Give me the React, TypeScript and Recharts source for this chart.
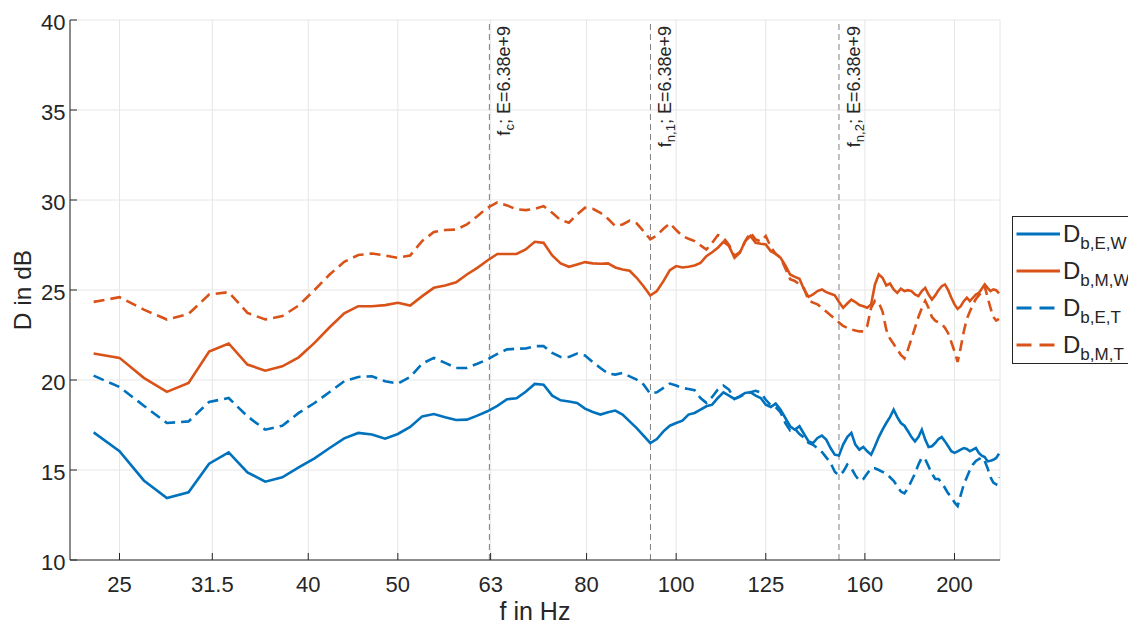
import { CartesianGrid, Line, LineChart, ReferenceLine, XAxis, YAxis } from 'recharts'

// frequency grid of the measurement, Hz
const freqHz = [
  23.44, 25, 26.56, 28.13, 29.69, 31.25, 32.81, 34.38, 35.94, 37.5,
  39.06, 40.63, 42.19, 43.75, 45.31, 46.88, 48.44, 50, 51.56, 53.13,
  54.69, 56.25, 57.81, 59.38, 60.94, 62.5, 64.06, 65.63, 67.19, 68.75,
  70.31, 71.88, 73.44, 75, 76.56, 78.13, 79.69, 81.25, 82.81, 84.38,
  85.94, 87.5, 89.06, 90.63, 92.19, 93.75, 95.31, 96.88, 98.44, 100,
  101.56, 103.13, 104.69, 106.25, 107.81, 109.38, 110.94, 112.5, 114.06, 115.63,
  117.19, 118.75, 120.31, 121.88, 123.44, 125, 126.56, 128.13, 129.69, 131.25,
  132.81, 134.38, 135.94, 137.5, 139.06, 140.63, 142.19, 143.75, 145.31, 146.88,
  148.44, 150, 151.56, 153.13, 154.69, 156.25, 157.81, 159.38, 160.94, 162.5,
  164.06, 165.63, 167.19, 168.75, 170.31, 171.88, 173.44, 175, 176.56, 178.13,
  179.69, 181.25, 182.81, 184.38, 185.94, 187.5, 189.06, 190.63, 192.19, 193.75,
  195.31, 196.88, 198.44, 200, 201.56, 203.13, 204.69, 206.25, 207.81, 209.38,
  210.94, 212.5, 214.06, 215.63, 217.19, 218.75, 220.31, 221.88, 223.44,
]

const dbEW = [
  17.09, 16.04, 14.42, 13.44, 13.76, 15.35, 15.98, 14.87, 14.35, 14.59,
  15.14, 15.65, 16.22, 16.76, 17.06, 16.97, 16.74, 17.0, 17.39, 17.98,
  18.11, 17.93, 17.78, 17.8, 18.02, 18.26, 18.56, 18.93, 18.98, 19.35,
  19.78, 19.74, 19.13, 18.87, 18.81, 18.72, 18.41, 18.22, 18.08, 18.21,
  18.3, 18.08, 17.7, 17.33, 16.91, 16.5, 16.72, 17.15, 17.46, 17.61,
  17.74, 18.08, 18.17, 18.35, 18.54, 18.63, 19.0, 19.31, 19.13, 18.95,
  19.1, 19.28, 19.32, 19.13, 19.0, 18.63, 18.5, 18.69, 18.35, 17.89,
  17.43, 17.24, 17.43, 17.0, 16.59, 16.5, 16.78, 16.91, 16.69, 16.22,
  15.85, 15.8, 16.41, 16.83, 17.06, 16.41, 16.13, 16.28, 16.04, 15.85,
  16.32, 16.83, 17.24, 17.61, 17.94, 18.35, 17.94, 17.61, 17.46, 17.15,
  16.83, 16.59, 16.83, 17.24, 16.69, 16.28, 16.32, 16.5, 16.72, 16.83,
  16.59, 16.32, 16.04, 15.95, 16.04, 16.13, 16.22, 16.17, 16.04, 16.13,
  16.22, 15.95, 15.8, 15.72, 15.48, 15.52, 15.57, 15.67, 15.91,
]

const dbMW = [
  21.47, 21.23, 20.12, 19.34, 19.84, 21.58, 22.03, 20.86, 20.52, 20.76,
  21.26, 22.06, 22.93, 23.71, 24.1, 24.1, 24.16, 24.29, 24.14, 24.66,
  25.12, 25.25, 25.43, 25.86, 26.23, 26.64, 27.0, 27.0, 27.0, 27.25,
  27.68, 27.62, 26.92, 26.48, 26.29, 26.42, 26.55, 26.48, 26.46, 26.48,
  26.25, 26.14, 26.07, 25.68, 25.21, 24.69, 24.94, 25.49, 26.1, 26.33,
  26.25, 26.29, 26.36, 26.51, 26.88, 27.1, 27.35, 27.68, 27.44, 26.79,
  27.07, 27.72, 28.0, 27.62, 27.57, 27.53, 27.16, 27.01, 26.79, 26.36,
  25.86, 25.73, 25.62, 25.03, 24.62, 24.75, 24.94, 25.03, 24.88, 24.79,
  24.7, 24.33, 24.01, 24.25, 24.47, 24.33, 24.16, 24.1, 24.01, 24.2,
  25.31, 25.86, 25.68, 25.25, 25.36, 25.03, 24.84, 25.07, 24.94, 24.99,
  24.94, 24.75, 24.66, 24.94, 25.12, 24.75, 24.47, 24.7, 24.99, 25.21,
  25.31, 24.99, 24.57, 24.2, 23.95, 24.1, 24.38, 24.57, 24.38, 24.57,
  24.75, 24.84, 25.07, 25.31, 25.12, 24.94, 25.03, 24.99, 24.81,
]

const dbET = [
  20.24, 19.61, 18.57, 17.61, 17.7, 18.78, 19.0, 17.98, 17.24, 17.46,
  18.17, 18.72, 19.33, 19.93, 20.17, 20.21, 19.93, 19.8, 20.17, 20.91,
  21.23, 20.95, 20.67, 20.67, 20.9, 21.14, 21.45, 21.7, 21.74, 21.75,
  21.88, 21.88, 21.5, 21.28, 21.28, 21.47, 21.36, 20.99, 20.67, 20.36,
  20.3, 20.39, 20.2, 20.02, 19.75, 19.24, 19.32, 19.56, 19.8, 19.69,
  19.56, 19.5, 19.43, 19.0, 18.73, 19.06, 19.47, 19.69, 19.47, 18.95,
  19.06, 19.24, 19.32, 19.4, 19.3, 18.9, 18.6, 18.5, 18.2, 17.6,
  17.2, 17.3, 17.0, 16.8, 16.5, 16.4, 16.2, 16.0, 15.7, 15.4,
  14.9, 14.7, 14.9, 15.3, 15.1, 14.7, 14.4, 14.5, 14.8, 15.1,
  15.1, 15.0, 14.9, 14.8, 14.6, 14.4, 14.1, 13.8, 13.7, 14.0,
  14.4, 14.8, 15.3, 15.7, 15.6, 15.2, 14.8, 14.5, 14.5, 14.3,
  14.0, 13.7, 13.5, 13.2, 13.0, 13.6, 14.2, 14.6, 15.0, 15.3,
  15.5, 15.6, 15.7, 15.5, 15.1, 14.6, 14.3, 14.2, 14.6,
]

const dbMT = [
  24.34, 24.6, 23.91, 23.36, 23.67, 24.75, 24.88, 23.73, 23.36, 23.55,
  24.14, 25.0, 25.86, 26.57, 26.94, 27.03, 26.92, 26.79, 26.92, 27.72,
  28.22, 28.33, 28.36, 28.64, 29.1, 29.57, 29.87, 29.7, 29.48, 29.44,
  29.51, 29.66, 29.29, 28.88, 28.74, 29.2, 29.57, 29.51, 29.29, 28.96,
  28.55, 28.64, 28.85, 28.7, 28.27, 27.81, 28.03, 28.4, 28.7, 28.33,
  28.0, 27.85, 27.72, 27.48, 27.25, 27.62, 28.05, 27.9, 27.5, 26.9,
  27.1, 27.7, 28.2, 27.8, 27.7, 28.0, 27.4, 27.0, 26.8, 26.2,
  25.6, 25.5, 25.3, 25.1, 24.4, 24.3, 24.2, 24.0, 23.8, 23.6,
  23.4, 23.2, 23.0, 22.9, 22.8, 22.75, 22.7, 22.7, 23.0, 24.0,
  24.4, 24.3, 23.8, 22.8, 22.3, 22.0, 21.7, 21.4, 21.2, 21.7,
  22.3, 22.9, 23.5, 24.0, 24.4, 24.0, 23.5, 23.3, 23.2, 23.1,
  22.9, 22.6, 22.1, 21.6, 21.0, 21.8, 22.7, 23.4, 23.8, 24.2,
  24.5, 24.7, 24.9, 25.2, 24.6, 24.0, 23.5, 23.3, 23.4,
]

const xTicks = [25, 31.5, 40, 50, 63, 80, 100, 125, 160, 200]
const yTicks = [10, 15, 20, 25, 30, 35, 40]

// xline markers: frequency and subscript of the label
const markerFreq = [62.8, 93.8, 150]
const markerSub = ['c', 'n,1', 'n,2']
const markerE = 'E=6.38e+9'

const BLUE = '#0072BD'
const ORANGE = '#D95319'
const INK = '#262626'
const FONT = '"Liberation Sans", Arial, Helvetica, sans-serif'

const series = [
  { key: 'ew', sub: 'b,E,W', color: BLUE, dashed: false },
  { key: 'mw', sub: 'b,M,W', color: ORANGE, dashed: false },
  { key: 'et', sub: 'b,E,T', color: BLUE, dashed: true },
  { key: 'mt', sub: 'b,M,T', color: ORANGE, dashed: true },
]

const rows = freqHz.map((f, i) => ({ f, ew: dbEW[i], mw: dbMW[i], et: dbET[i], mt: dbMT[i] }))

function BottomTick({ x, y, payload }: any) {
  return (
    <g>
      <line x1={x} x2={x} y1={y} y2={y - 7} stroke={INK} />
      <text x={x} y={y + 32} textAnchor="middle" fontSize={22} fill={INK} fontFamily={FONT}>{payload.value}</text>
    </g>
  )
}

function TopTick({ x, y }: any) {
  return <line x1={x} x2={x} y1={y} y2={y + 7} stroke={INK} />
}

function LeftTick({ x, y, payload }: any) {
  return (
    <g>
      <line x1={x} x2={x + 7} y1={y} y2={y} stroke={INK} />
      <text x={x - 4.5} y={y + 10} textAnchor="end" fontSize={22} fill={INK} fontFamily={FONT}>{payload.value}</text>
    </g>
  )
}

function RightTick({ x, y }: any) {
  return <line x1={x} x2={x - 7} y1={y} y2={y} stroke={INK} />
}

function XTitle({ viewBox }: any) {
  return (
    <text x={viewBox.x + viewBox.width / 2} y={viewBox.y + 60} textAnchor="middle" fontSize={25} fill={INK} fontFamily={FONT}>
      f in Hz
    </text>
  )
}

function YTitle({ viewBox }: any) {
  const x = viewBox.x + 31
  const y = viewBox.y + viewBox.height / 2
  return (
    <text x={x} y={y} transform={`rotate(-90 ${x} ${y})`} textAnchor="middle" fontSize={24.5} fill={INK} fontFamily={FONT}>
      D in dB
    </text>
  )
}

function MarkerLabel({ viewBox, sub }: any) {
  const x = viewBox.x + 21
  const y = viewBox.y + 6
  return (
    <text x={x} y={y} transform={`rotate(-90 ${x} ${y})`} textAnchor="end" fontSize={18} fill={INK} fontFamily={FONT}>
      f<tspan fontSize={13} dy={4}>{sub}</tspan>
      <tspan dy={-4}>; {markerE}</tspan>
    </text>
  )
}

function LegendBox() {
  return (
    <div
      style={{
        position: 'absolute', left: 1012, top: 216, width: 116, height: 148, boxSizing: 'border-box',
        border: `1px solid ${INK}`, borderRight: 'none', background: '#fff', fontFamily: FONT, color: INK,
      }}
    >
      {series.map((s) => (
        <div key={s.key} style={{ height: 37, display: 'flex', alignItems: 'center', whiteSpace: 'nowrap' }}>
          <svg width={50} height={37} style={{ flex: 'none' }}>
            <line x1={3.5} x2={47} y1={17} y2={17} stroke={s.color} strokeWidth={3} strokeDasharray={s.dashed ? '15 8' : undefined} />
          </svg>
          <span style={{ fontSize: 24, lineHeight: '24px' }}>
            D<span style={{ fontSize: 17, position: 'relative', top: 7 }}>{s.sub}</span>
          </span>
        </div>
      ))}
    </div>
  )
}

export default function App() {
  return (
    <div style={{ position: 'absolute', left: 0, top: 0, width: 1128, height: 625, overflow: 'hidden', background: '#fff' }}>
      <LineChart width={1128} height={625} data={rows} margin={{ top: 20, right: 128, bottom: 0, left: 0 }}>
        <CartesianGrid stroke="#e6e6e6" />
        <XAxis
          dataKey="f" type="number" scale="log" domain={[22.1, 224]} allowDataOverflow ticks={xTicks} interval={0}
          height={65} tickSize={0} tickMargin={0} tick={<BottomTick />} axisLine={{ stroke: INK }} label={<XTitle />}
        />
        <XAxis
          xAxisId="top" orientation="top" dataKey="f" type="number" scale="log" domain={[22.1, 224]} allowDataOverflow
          ticks={xTicks} interval={0} height={0} tickSize={0} tickMargin={0} tick={<TopTick />} axisLine={{ stroke: INK }}
        />
        <YAxis
          type="number" domain={[10, 40]} allowDataOverflow ticks={yTicks} interval={0} width={70}
          tickSize={0} tickMargin={0} tick={<LeftTick />} axisLine={{ stroke: INK }} label={<YTitle />}
        />
        <YAxis
          yAxisId="right" orientation="right" type="number" domain={[10, 40]} allowDataOverflow ticks={yTicks} interval={0}
          width={0} tickSize={0} tickMargin={0} tick={<RightTick />} axisLine={{ stroke: INK }}
        />
        {markerFreq.map((f, i) => (
          <ReferenceLine key={f} x={f} stroke="#808080" strokeDasharray="6 4" label={<MarkerLabel sub={markerSub[i]} />} />
        ))}
        {series.map((s) => (
          <Line
            key={s.key} dataKey={s.key} type="linear" stroke={s.color} strokeWidth={2.6}
            strokeDasharray={s.dashed ? '11 6' : undefined} dot={false} activeDot={false} isAnimationActive={false}
          />
        ))}
      </LineChart>
      <LegendBox />
    </div>
  )
}
